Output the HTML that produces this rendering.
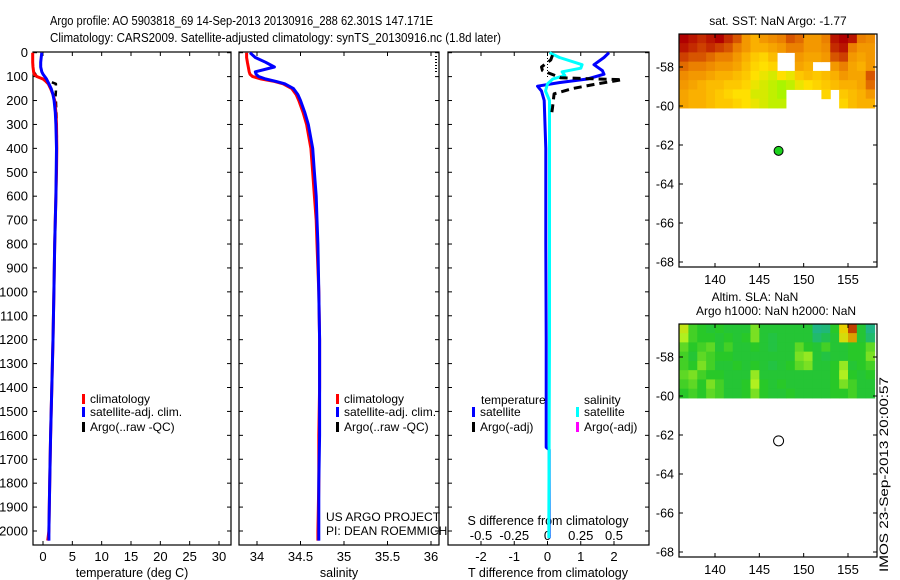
<!DOCTYPE html>
<html><head><meta charset="utf-8"><style>
html,body{margin:0;padding:0;background:#fff;}
svg{display:block;font-family:"Liberation Sans",sans-serif;}
</style></head><body>
<svg id="chart" width="900" height="580" viewBox="0 0 900 580" xmlns="http://www.w3.org/2000/svg">
<text x="50" y="25" font-size="13" textLength="383" lengthAdjust="spacingAndGlyphs">Argo profile: AO 5903818_69 14-Sep-2013 20130916_288 62.301S 147.171E</text>
<text x="50" y="42" font-size="13" textLength="451" lengthAdjust="spacingAndGlyphs">Climatology: CARS2009. Satellite-adjusted climatology: synTS_20130916.nc (1.8d later)</text>
<text transform="translate(888,572) rotate(-90)" font-size="12" textLength="195" lengthAdjust="spacingAndGlyphs">IMOS 23-Sep-2013 20:00:57</text>
<g id="g"></g>
</svg>
<script>
// ---------- data ----------
const depthClim = [0,20,40,60,80,90,100,110,120,130,150,175,200,250,300,400,500,600,700,800,1000,1200,1400,1600,1800,2000,2040];
const tempClim = [-1.75,-1.75,-1.75,-1.7,-1.6,-1.5,-1.0,0.0,0.5,0.9,1.3,1.7,2.0,2.2,2.3,2.35,2.3,2.2,2.1,2.0,1.85,1.7,1.5,1.3,1.15,1.0,0.8];
const tempSat = [-0.2,-0.3,-0.4,-0.4,-0.2,0.0,0.3,0.6,0.8,1.0,1.4,1.7,1.9,2.1,2.2,2.3,2.25,2.2,2.1,2.0,1.85,1.7,1.5,1.3,1.15,1.0,1.0];
const salClim = [33.88,33.88,33.89,33.9,33.91,33.92,33.95,34.05,34.2,34.3,34.4,34.45,34.48,34.53,34.57,34.62,34.64,34.66,34.68,34.69,34.71,34.72,34.72,34.71,34.71,34.70,34.70];
const salSat = [33.92,33.98,34.1,34.2,33.98,33.99,34.02,34.1,34.22,34.32,34.42,34.47,34.5,34.55,34.59,34.64,34.66,34.68,34.69,34.70,34.71,34.72,34.72,34.72,34.71,34.71,34.71];
const depthArgoT = [80,90,100,130,140,160,180,200,230,260,300,350,400,450,500];
const tempArgo = [-1.6,-1.3,-1.1,2.2,2.2,2.2,2.15,2.2,2.25,2.3,2.3,2.35,2.3,2.3,2.3];
const depthDT = [0,20,50,75,90,110,125,140,160,200,400,800,1200,1650,1660,2000,2030];
const diffTSat = [1.85,1.7,1.4,1.65,1.7,1.2,0.35,-0.3,-0.18,-0.1,-0.05,-0.05,-0.04,-0.04,0.05,0.05,0.05];
const depthDS = [0,20,50,65,80,95,110,130,160,200,600,1200,2000,2030];
const diffSSat = [0.015,0.09,0.26,0.25,0.11,0.13,0.04,0,-0.015,0.015,0.015,0.015,0.01,0.01];
const depthDTArgo = [10,30,60,75,105,113,130,150,172,230,260];
const diffTArgo = [0.15,0.1,-0.18,-0.15,0.4,2.25,1.5,0.75,0.2,0.15,0.12];
const depthTicks = [0,100,200,300,400,500,600,700,800,900,1000,1100,1200,1300,1400,1500,1600,1700,1800,1900,2000];
const tempTicks = [0,5,10,15,20,25,30];
const salTicks = [34,34.5,35,35.5,36];
const dTTicks = [-2,-1,0,1,2];
const dSTicks = [-0.5,-0.25,0,0.25,0.5];
const lonTicks = [140,145,150,155];
const latTicks = [-58,-60,-62,-64,-66,-68];
const argoLon = 147.17, argoLat = -62.3;
const sstGrid = [
[1,.95,.9,.95,1,.9,.8,.6,.5,.6,.65,.7,.8,.75,.6,.6,.7,.95,1,.95,.7,.65],
[.95,.9,.85,.9,.85,.8,.7,.6,.5,.5,.55,.6,.7,.7,.6,.6,.65,.9,.95,.7,.6,.6],
[.85,.8,.8,.75,.7,.7,.6,.5,.4,.35,.45,null,null,.6,.55,.55,.6,.8,.85,.6,.55,.6],
[.75,.7,.7,.65,.6,.6,.55,.45,.35,.3,.35,null,null,.55,.5,null,null,.6,.7,.55,.5,.6],
[.65,.6,.6,.55,.5,.5,.45,.4,.3,.25,.2,.3,.25,.4,.45,.4,.45,.5,.6,.55,.55,.8],
[.6,.55,.5,.45,.45,.4,.4,.35,.25,.2,.15,.1,.15,.25,.3,.35,.4,.45,.5,.5,.55,.75],
[.55,.5,.5,.45,.4,.35,.3,.3,.2,.2,.15,.1,null,null,null,null,.35,null,.4,.45,.5,.6],
[.55,.5,.5,.45,.4,.4,.35,.3,.25,.2,.15,.15,null,null,null,null,null,null,.35,.45,.5,.5]];
const slaGrid = [
[.75,.5,.45,.4,.45,.4,.4,.4,.6,.4,.4,.4,.4,.4,.4,.1,.15,.45,.85,1,.4,.1],
[.7,.5,.45,.45,.4,.45,.4,.45,.6,.4,.35,.4,.4,.4,.4,.2,.3,.4,.8,.9,.4,.2],
[.55,.45,.5,.55,.4,.5,.4,.4,.45,.4,.35,.4,.4,.55,.45,.4,.5,.4,.4,.45,.45,.55],
[.5,.4,.55,.5,.45,.45,.4,.4,.4,.4,.4,.4,.4,.6,.65,.4,.35,.4,.4,.45,.45,.6],
[.5,.45,.6,.5,.4,.4,.45,.4,.45,.4,.35,.4,.45,.55,.6,.4,.4,.45,.65,.4,.45,.5],
[.55,.6,.5,.45,.45,.4,.4,.4,.65,.4,.4,.4,.4,.4,.4,.4,.4,.45,.7,.45,.4,.45],
[.5,.55,.45,.6,.5,.4,.4,.45,.7,.45,.4,.45,.4,.4,.4,.4,.4,.45,.6,.5,.4,.4],
[.45,.5,.45,.55,.5,.4,.4,.45,.6,.45,.4,.4,.45,.4,.4,.4,.4,.45,.45,.5,.4,.4]];
const gridLon0 = 136, gridLonStep = 1, gridLat0 = -56.3, gridLatStep = -0.475;

// ---------- helpers ----------
const NS = 'http://www.w3.org/2000/svg';
const G = document.getElementById('g');
function mk(tag, attrs, parent){
  const e = document.createElementNS(NS, tag);
  for (const k in attrs) e.setAttribute(k, attrs[k]);
  (parent || G).appendChild(e);
  return e;
}
function lin(d0,d1,r0,r1){ return v => r0 + (v-d0)*(r1-r0)/(d1-d0); }
const yD = lin(0,2000,52.7,531);
const PT = 52, PB = 545;

function panel(name,x0,x1){
  const r = mk('rect',{x:x0,y:PT,width:x1-x0,height:PB-PT,fill:'none',stroke:'#000','stroke-width':1.2});
  
  
  depthTicks.forEach(d=>{
    const y = yD(d);
    const t1 = mk('line',{x1:x0,x2:x0+4,y1:y,y2:y,stroke:'#000'});
    
    
    const t2 = mk('line',{x1:x1-4,x2:x1,y1:y,y2:y,stroke:'#000'});
    
    
  });
}
function xticks(xs, vals, labelY, withLabel){
  vals.forEach(v=>{
    const x = xs(v);
    const a = mk('line',{x1:x,x2:x,y1:PT,y2:PT+4,stroke:'#000'});
    
    
    const b = mk('line',{x1:x,x2:x,y1:PB-4,y2:PB,stroke:'#000'});
    
    
    if (withLabel){
      const t = mk('text',{x:x,y:labelY,'font-size':13,'text-anchor':'middle'});
      
      
      t.textContent = String(v);
    }
  });
}
function line(name, xs, vals, depths, color, w, dash){
  const pts = vals.map((v,i)=> xs(v).toFixed(1)+','+yD(depths[i]).toFixed(1)).join(' ');
  const p = mk('polyline',{points:pts,fill:'none',stroke:color,'stroke-width':w,'stroke-linejoin':'round'});
  if (dash) p.setAttribute('stroke-dasharray', dash);
  
  
}
function text(name, x, y, s, str, anchor){
  const t = mk('text',{x:x,y:y,'font-size':s,'text-anchor':anchor||'start'});
  
  
  t.textContent = str;
  return t;
}
function legendEntry(name, x, y, color, label){
  const m = mk('rect',{x:x,y:y-9,width:3,height:10,fill:color});
  
  
  text(name, x+8, y, 12, label);
}

// ---------- panel 1: temperature ----------
const xT = lin(0,30,43,219);
panel('temperature-panel', 33, 231);
depthTicks.forEach(d=>{ text('depth-tick-label', 28, yD(d)+4.5, 13, String(d), 'end'); });
xticks(xT, tempTicks, 561, true);
text('temperature-axis-title', 132, 577, 12.5, 'temperature (deg C)', 'middle');
line('temp-argo-line', xT, tempArgo, depthArgoT, '#000', 2.5, '6,5');
line('temp-climatology-line', xT, tempClim, depthClim, '#f00', 3);
line('temp-satellite-line', xT, tempSat, depthClim, '#00f', 3);
legendEntry('legend-climatology', 82, 403, '#f00', 'climatology');
legendEntry('legend-satellite-adj', 82, 416, '#00f', 'satellite-adj. clim.');
legendEntry('legend-argo', 82, 431, '#000', 'Argo(..raw -QC)');

// ---------- panel 2: salinity ----------
const xS = lin(34,36,257,431);
panel('salinity-panel', 239, 439);
xticks(xS, salTicks, 561, true);
text('salinity-axis-title', 339, 577, 12.5, 'salinity', 'middle');
line('sal-climatology-line', xS, salClim, depthClim, '#f00', 3);
line('sal-satellite-line', xS, salSat, depthClim, '#00f', 3);
const dl = mk('line',{x1:436,x2:436,y1:56,y2:74,stroke:'#000','stroke-dasharray':'1,2','stroke-width':2});


legendEntry('legend-sal-climatology', 336, 403, '#f00', 'climatology');
legendEntry('legend-sal-satellite-adj', 336, 416, '#00f', 'satellite-adj. clim.');
legendEntry('legend-sal-argo', 336, 431, '#000', 'Argo(..raw -QC)');
text('project-label', 326, 521, 12, 'US ARGO PROJECT');
text('pi-label', 326, 535, 12, 'PI: DEAN ROEMMICH');

// ---------- panel 3: differences ----------
const xDT = lin(-2,2,481,614);
const xDS = lin(-0.5,0.5,481,614);
panel('difference-panel', 448, 649);
xticks(xDT, dTTicks, 561, true);
dSTicks.forEach(v=>{ text('s-diff-tick-label', xDS(v), 540, 13, String(v), 'middle'); });
text('s-diff-axis-title', 548, 525, 12.5, 'S difference from climatology', 'middle');
text('t-diff-axis-title', 548, 577, 12.5, 'T difference from climatology', 'middle');
const zl = mk('line',{x1:xDT(0),x2:xDT(0),y1:PT,y2:yD(110),stroke:'#000','stroke-dasharray':'1,2'});


line('t-diff-satellite-line', xDT, diffTSat, depthDT, '#00f', 3);
line('s-diff-satellite-line', xDS, diffSSat, depthDS, '#0ff', 3);
line('t-diff-argo-line', xDT, diffTArgo, depthDTArgo, '#000', 3, '8,5');
text('legend-temperature-header', 481, 404, 12, 'temperature');
text('legend-salinity-header', 584, 404, 12, 'salinity');
legendEntry('legend-t-satellite', 472, 416, '#00f', 'satellite');
legendEntry('legend-t-argo', 472, 431, '#000', 'Argo(-adj)');
legendEntry('legend-s-satellite', 576, 416, '#0ff', 'satellite');
legendEntry('legend-s-argo', 576, 431, '#f0f', 'Argo(-adj)');

// ---------- maps ----------
function interp(stops, v){
  for (let i=0;i<stops.length-1;i++){
    const [a,ca]=stops[i],[b,cb]=stops[i+1];
    if (v<=b){ const t=(v-a)/(b-a); return 'rgb('+ca.map((c,k)=>Math.round(c+(cb[k]-c)*t)).join(',')+')'; }
  }
  return 'rgb('+stops[stops.length-1][1].join(',')+')';
}
const sstStops = [[0,[128,255,0]],[0.3,[255,224,0]],[0.5,[250,176,0]],[0.7,[235,128,0]],[1,[176,0,0]]];
const slaStops = [[0,[32,176,160]],[0.3,[32,192,80]],[0.45,[40,200,40]],[0.7,[176,240,32]],[0.85,[232,208,0]],[1,[192,64,0]]];
const xLon = lin(140,155,715,848);
function map(name, yoff, grid, stops, filled){
  const yLat = lin(-58,-68,67+yoff,262+yoff);
  const X0 = 679, X1 = 877, Y0 = 34+yoff, Y1 = 267+yoff;
  grid.forEach((row,ri)=>row.forEach((v,ci)=>{
    if (v===null) return;
    const xa = xLon(gridLon0+ci*gridLonStep), xb = xLon(gridLon0+(ci+1)*gridLonStep);
    const ya = yLat(gridLat0+ri*gridLatStep), yb = yLat(gridLat0+(ri+1)*gridLatStep);
    const c = mk('rect',{x:Math.max(xa,X0),y:Math.max(ya,Y0),width:Math.min(xb,X1)-Math.max(xa,X0)+0.5,height:yb-Math.max(ya,Y0)+0.5,fill:interp(stops,v)});
    
    
  }));
  const b = mk('rect',{x:X0,y:Y0,width:X1-X0,height:Y1-Y0,fill:'none',stroke:'#000','stroke-width':1.2});
  
  
  latTicks.forEach(l=>{
    const y = yLat(l);
    const t = mk('line',{x1:X0,x2:X0+4,y1:y,y2:y,stroke:'#000'});
    
    
    const t2 = mk('line',{x1:X1-4,x2:X1,y1:y,y2:y,stroke:'#000'});
    
    
    text('lat-tick-label', 674, y+4.5, 12.5, String(l), 'end');
  });
  lonTicks.forEach(l=>{
    const x = xLon(l);
    const t = mk('line',{x1:x,x2:x,y1:Y1-4,y2:Y1,stroke:'#000'});
    
    
    const t2 = mk('line',{x1:x,x2:x,y1:Y0,y2:Y0+4,stroke:'#000'});
    
    
    text('lon-tick-label', x, Y1+17, 13, String(l), 'middle');
  });
  const m = mk('circle',{cx:xLon(argoLon),cy:yLat(argoLat),r:filled?4.5:5,fill:filled?'#1ed21e':'none',stroke:'#000','stroke-width':1});
  
  
}
map('sst-map', 0, sstGrid, sstStops, true);
map('sla-map', 290, slaGrid, slaStops, false);
text('sst-map-title', 778, 25, 12, 'sat. SST: NaN Argo: -1.77', 'middle');
text('sla-map-title', 755, 301, 12, 'Altim. SLA: NaN', 'middle');
text('sla-map-subtitle', 776, 315, 12, 'Argo h1000: NaN h2000: NaN', 'middle');
</script>
</body></html>
